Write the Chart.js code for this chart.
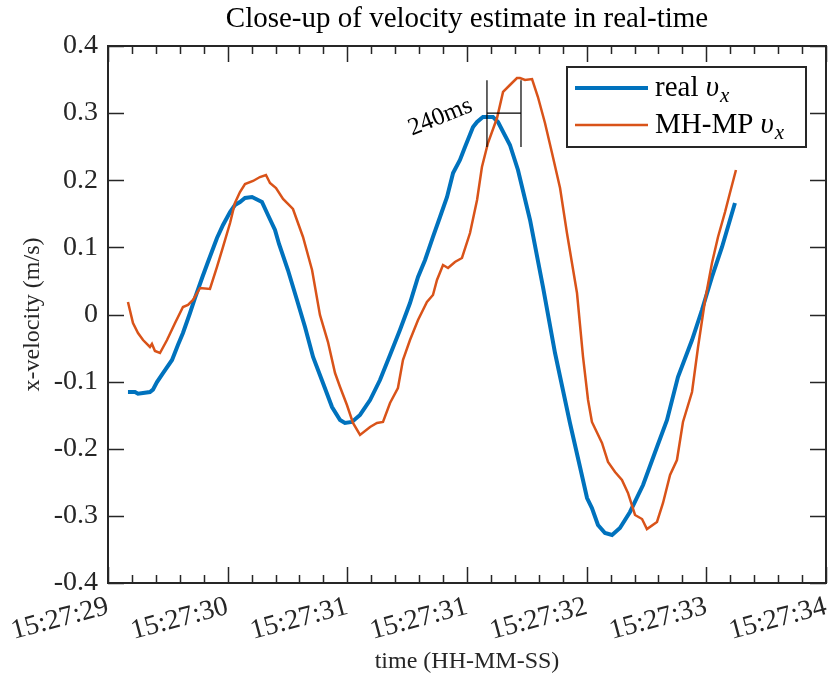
<!DOCTYPE html>
<html>
<head>
<meta charset="utf-8">
<script src="https://cdn.jsdelivr.net/npm/chart.js@4.4.1/dist/chart.umd.min.js"></script>
<style>
  html, body { margin: 0; padding: 0; background: #fff; }
  #wrap { width: 834px; height: 686px; }
</style>
</head>
<body>
<div id="wrap"><canvas id="c" width="834" height="686"></canvas></div>
<script>
// time in seconds after 15:27:29, velocity in m/s
const realTime = [0.139, 0.188, 0.209, 0.292, 0.313, 0.341, 0.383, 0.446, 0.487, 0.522, 0.571, 0.606, 0.655, 0.696, 0.759, 0.801, 0.850, 0.884, 0.919, 0.954, 1.003, 1.072, 1.114, 1.163, 1.191, 1.253, 1.316, 1.372, 1.428, 1.497, 1.560, 1.616, 1.650, 1.699, 1.755, 1.825, 1.894, 1.964, 2.033, 2.103, 2.159, 2.208, 2.263, 2.312, 2.361, 2.403, 2.451, 2.486, 2.542, 2.570, 2.611, 2.681, 2.716, 2.799, 2.855, 2.939, 3.029, 3.113, 3.217, 3.287, 3.336, 3.370, 3.412, 3.461, 3.510, 3.565, 3.635, 3.726, 3.823, 3.893, 3.969, 4.067, 4.136, 4.206, 4.276, 4.366];
const realVel = [-0.1155, -0.1155, -0.118, -0.1155, -0.112, -0.1006, -0.0872, -0.0678, -0.0454, -0.0276, 0.0022, 0.0246, 0.0544, 0.0782, 0.1140, 0.1333, 0.1527, 0.1631, 0.1676, 0.1736, 0.1750, 0.1676, 0.1482, 0.1259, 0.105, 0.0663, 0.0216, -0.0186, -0.0633, -0.1020, -0.1378, -0.1572, -0.1616, -0.1601, -0.1497, -0.1274, -0.0976, -0.0603, -0.0231, 0.0171, 0.0559, 0.0812, 0.1155, 0.1453, 0.1750, 0.2108, 0.2302, 0.2495, 0.2793, 0.2868, 0.2942, 0.2942, 0.2868, 0.2525, 0.2153, 0.1408, 0.0410, -0.0574, -0.1616, -0.2272, -0.2734, -0.2883, -0.3136, -0.3255, -0.3285, -0.3181, -0.2942, -0.2540, -0.1974, -0.1572, -0.0931, -0.0380, 0.0067, 0.0559, 0.1006, 0.1661];

const estTime = [0.139, 0.174, 0.209, 0.244, 0.292, 0.306, 0.327, 0.362, 0.411, 0.467, 0.522, 0.557, 0.592, 0.641, 0.710, 0.759, 0.801, 0.850, 0.884, 0.919, 0.954, 1.010, 1.058, 1.100, 1.128, 1.170, 1.219, 1.288, 1.358, 1.421, 1.476, 1.532, 1.581, 1.616, 1.664, 1.706, 1.755, 1.825, 1.873, 1.915, 1.964, 2.019, 2.054, 2.103, 2.159, 2.221, 2.263, 2.291, 2.333, 2.368, 2.416, 2.465, 2.521, 2.570, 2.604, 2.646, 2.709, 2.751, 2.799, 2.848, 2.869, 2.904, 2.953, 2.994, 3.043, 3.092, 3.148, 3.196, 3.266, 3.308, 3.343, 3.370, 3.440, 3.482, 3.531, 3.579, 3.621, 3.670, 3.719, 3.753, 3.823, 3.865, 3.914, 3.962, 4.004, 4.067, 4.109, 4.158, 4.206, 4.248, 4.297, 4.331, 4.373];
const estVel = [0.0186, -0.0127, -0.0276, -0.0380, -0.0484, -0.0439, -0.0544, -0.0574, -0.0380, -0.0127, 0.0112, 0.0142, 0.0216, 0.0395, 0.0380, 0.0708, 0.1006, 0.1363, 0.1661, 0.1825, 0.1944, 0.1989, 0.2048, 0.2078, 0.1959, 0.1885, 0.1721, 0.1572, 0.1155, 0.0663, -0.0007, -0.0410, -0.0872, -0.1080, -0.1348, -0.1616, -0.1795, -0.1676, -0.1616, -0.1601, -0.1318, -0.1095, -0.0678, -0.0380, -0.0082, 0.0186, 0.0291, 0.0514, 0.0737, 0.0693, 0.0782, 0.0842, 0.1214, 0.1706, 0.2197, 0.2555, 0.2927, 0.3315, 0.3419, 0.3523, 0.3523, 0.3493, 0.3508, 0.3240, 0.2853, 0.2406, 0.1885, 0.1214, 0.0320, -0.0633, -0.1274, -0.1601, -0.1914, -0.2197, -0.2346, -0.2466, -0.2659, -0.2987, -0.3047, -0.3196, -0.3091, -0.2808, -0.2391, -0.2168, -0.1601, -0.1155, -0.0484, 0.0216, 0.0767, 0.1155, 0.1527, 0.1810, 0.2153];

const xTickPos = [0, 5 / 6, 10 / 6, 15 / 6, 20 / 6, 25 / 6, 5];
const xTickLabels = ['15:27:29', '15:27:30', '15:27:31', '15:27:31', '15:27:32', '15:27:33', '15:27:34'];
const yTickPos = [-0.4, -0.3, -0.2, -0.1, 0, 0.1, 0.2, 0.3, 0.4];
const yTickLabels = ['-0.4', '-0.3', '-0.2', '-0.1', '0', '0.1', '0.2', '0.3', '0.4'];

// 240ms delay marker between the two peaks
const lagStart = 2.639;
const lagEnd = 2.876;
const lagLevel = 0.300;
const lagBar = [0.2495, 0.349];

const TITLE = 'Close-up of velocity estimate in real-time';
const SERIF = '"Liberation Serif", "DejaVu Serif", serif';
const AXIS = '#262626';
const BLUE = '#0072BD';
const ORANGE = '#D95319';

// "text v_x" with italic upsilon and subscript x
function mathLabel(ctx, x, y, word) {
  ctx.font = '29px ' + SERIF;
  ctx.fillText(word, x, y);
  x += ctx.measureText(word).width;
  ctx.font = 'italic 29px ' + SERIF;
  ctx.fillText('\u03C5', x, y);
  x += ctx.measureText('\u03C5').width + 1;
  ctx.font = 'italic 21px ' + SERIF;
  ctx.fillText('x', x, y + 6);
}

const frame = {
  id: 'frame',
  afterDatasetsDraw(chart) {
    const { ctx, chartArea: a, scales: { x, y } } = chart;
    ctx.save();

    // title centred over the plot box
    ctx.fillStyle = '#000';
    ctx.font = '29px ' + SERIF;
    ctx.textAlign = 'center';
    ctx.textBaseline = 'middle';
    ctx.fillText(TITLE, (a.left + a.right) / 2, 19);

    ctx.strokeStyle = AXIS;
    ctx.lineWidth = 1.5;

    // inward ticks on all four sides
    ctx.beginPath();
    for (let i = 0; i <= 30; i++) {
      const px = Math.round(x.getPixelForValue(i / 6)) + 0.5;
      const len = i % 5 === 0 ? 16 : 8;
      ctx.moveTo(px, a.bottom); ctx.lineTo(px, a.bottom - len);
      ctx.moveTo(px, a.top); ctx.lineTo(px, a.top + len);
    }
    yTickPos.forEach(v => {
      const py = Math.round(y.getPixelForValue(v)) + 0.5;
      ctx.moveTo(a.left, py); ctx.lineTo(a.left + 16, py);
      ctx.moveTo(a.right, py); ctx.lineTo(a.right - 16, py);
    });
    ctx.stroke();
    ctx.lineWidth = 2;
    ctx.strokeRect(a.left, a.top, a.right - a.left, a.bottom - a.top);

    // delay marker
    ctx.strokeStyle = '#000';
    ctx.lineWidth = 1.2;
    const x1 = x.getPixelForValue(lagStart), x2 = x.getPixelForValue(lagEnd);
    const yb = y.getPixelForValue(lagBar[0]), yt = y.getPixelForValue(lagBar[1]);
    const ym = y.getPixelForValue(lagLevel);
    ctx.beginPath();
    ctx.moveTo(x1, yb); ctx.lineTo(x1, yt);
    ctx.moveTo(x2, yb); ctx.lineTo(x2, yt);
    ctx.moveTo(x1, ym); ctx.lineTo(x2, ym);
    ctx.stroke();
    ctx.save();
    ctx.translate(x.getPixelForValue(2.315), y.getPixelForValue(0.294));
    ctx.rotate(-22 * Math.PI / 180);
    ctx.font = '25px ' + SERIF;
    ctx.fillText('240ms', 0, 0);
    ctx.restore();

    // legend box
    const lx = 567, ly = 67, lw = 239, lh = 80;
    ctx.fillStyle = '#fff';
    ctx.fillRect(lx, ly, lw, lh);
    ctx.strokeStyle = AXIS;
    ctx.lineWidth = 2;
    ctx.strokeRect(lx, ly, lw, lh);
    ctx.lineWidth = 4;
    ctx.strokeStyle = BLUE;
    ctx.beginPath(); ctx.moveTo(575, 88); ctx.lineTo(648, 88); ctx.stroke();
    ctx.lineWidth = 2.5;
    ctx.strokeStyle = ORANGE;
    ctx.beginPath(); ctx.moveTo(575, 125); ctx.lineTo(648, 125); ctx.stroke();
    ctx.fillStyle = '#000';
    ctx.textBaseline = 'alphabetic';
    ctx.textAlign = 'left';
    mathLabel(ctx, 655, 96, 'real ');
    mathLabel(ctx, 655, 133, 'MH-MP ');
    ctx.restore();
  }
};

new Chart(document.getElementById('c'), {
  type: 'line',
  data: {
    datasets: [
      {
        label: 'real',
        data: realTime.map((t, i) => ({ x: t, y: realVel[i] })),
        borderColor: BLUE,
        borderWidth: 4,
        pointRadius: 0,
        tension: 0,
        order: 1
      },
      {
        label: 'MH-MP',
        data: estTime.map((t, i) => ({ x: t, y: estVel[i] })),
        borderColor: ORANGE,
        borderWidth: 2.5,
        pointRadius: 0,
        tension: 0,
        order: 0
      }
    ]
  },
  options: {
    responsive: false,
    animation: false,
    layout: { padding: { left: 0, right: 8, top: 46, bottom: 0 } },
    plugins: {
      legend: { display: false },
      tooltip: { enabled: false },
      title: { display: false }
    },
    scales: {
      x: {
        type: 'linear',
        min: 0,
        max: 5,
        afterBuildTicks: s => { s.ticks = xTickPos.map(v => ({ value: v })); },
        afterFit: s => { s.height = 103; s.paddingLeft = 0; s.paddingRight = 0; },
        grid: { display: false, drawTicks: false },
        border: { display: false },
        ticks: {
          autoSkip: false,
          minRotation: 15,
          maxRotation: 15,
          padding: 7,
          color: AXIS,
          font: { family: SERIF, size: 28 },
          callback: (v, i) => xTickLabels[i]
        },
        title: {
          display: true,
          text: 'time (HH-MM-SS)',
          color: AXIS,
          font: { family: SERIF, size: 24, lineHeight: 1.2 },
          padding: { top: 0, bottom: 10 }
        }
      },
      y: {
        min: -0.4,
        max: 0.4,
        afterBuildTicks: s => { s.ticks = yTickPos.map(v => ({ value: v })); },
        afterFit: s => { s.width = 108; s.paddingTop = 0; s.paddingBottom = 0; },
        grid: { display: false, drawTicks: false },
        border: { display: false },
        ticks: {
          padding: 10,
          color: AXIS,
          font: { family: SERIF, size: 28 },
          callback: (v, i) => yTickLabels[i]
        },
        title: {
          display: true,
          text: 'x-velocity (m/s)',
          color: AXIS,
          font: { family: SERIF, size: 24, lineHeight: 1.2 },
          padding: { top: 18, bottom: 0 }
        }
      }
    }
  },
  plugins: [frame]
});
</script>
</body>
</html>
